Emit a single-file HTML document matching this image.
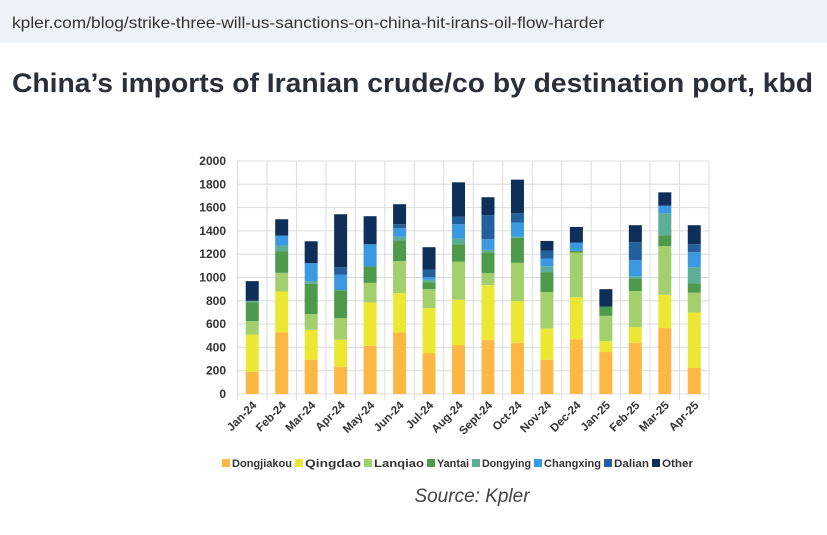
<!DOCTYPE html>
<html><head><meta charset="utf-8"><style>
html,body{margin:0;padding:0;background:#fff;}
svg{display:block;font-family:"Liberation Sans",sans-serif;}
</style></head><body>
<svg id="s" width="827" height="535" viewBox="0 0 827 535" xmlns="http://www.w3.org/2000/svg">
<rect x="0" y="0" width="827" height="43" fill="#edf1f8"/>
<text x="12" y="28" font-size="16" fill="#333" textLength="592" lengthAdjust="spacingAndGlyphs">kpler.com/blog/strike-three-will-us-sanctions-on-china-hit-irans-oil-flow-harder</text>
<text x="12" y="92" font-size="27" font-weight="bold" fill="#2a2f3a" textLength="801" lengthAdjust="spacingAndGlyphs">China’s imports of Iranian crude/co by destination port, kbd</text>
<text x="472" y="502" font-size="19" font-style="italic" fill="#444" text-anchor="middle">Source: Kpler</text>
<g id="g"></g>
</svg>
<script>
var g=document.getElementById('g');
var ns="http://www.w3.org/2000/svg";
function el(t,a,txt){var e=document.createElementNS(ns,t);for(var k in a)e.setAttribute(k,a[k]);if(txt)e.textContent=txt;g.appendChild(e);return e;}
var x0=237.5,x1=709,y0=394,y2000=161,n=16,w=(x1-x0)/n;
function Y(v){return y0-(y0-y2000)*v/2000;}
for(var i=0;i<=10;i++){var v=i*200;el('line',{x1:x0,x2:x1,y1:Y(v),y2:Y(v),stroke:'#dcdcdc','stroke-width':1});
el('text',{x:226,y:Y(v)+4,'font-size':12,'font-weight':'bold','text-anchor':'end',fill:'#333'},String(v));}
for(var i=0;i<=n;i++){var x=x0+i*w;el('line',{x1:x,x2:x,y1:y2000,y2:y0+6,stroke:'#dcdcdc','stroke-width':1});}
var cols=['#fdb743','#ece733','#a3d06d','#4d9a4b','#5cae96','#3b99e1','#22619d','#0e2f5a'];
var d=[[191,509,626,786,800,800,800,969],[529,880,1040,1226,1274,1360,1360,1500],[294,551,686,946,969,1123,1123,1311],[234,466,651,891,891,1023,1089,1543],[414,786,954,1094,1094,1286,1286,1526],[529,866,1140,1320,1349,1423,1457,1629],[351,737,900,960,980,1003,1069,1260],[420,809,1137,1286,1334,1457,1523,1817],[463,934,1037,1217,1237,1329,1534,1689],[440,797,1126,1340,1351,1471,1551,1840],[294,563,874,1046,1097,1163,1229,1314],[469,831,1214,1229,1229,1300,1300,1434],[360,454,671,749,749,749,749,900],[440,574,883,991,1011,1149,1303,1449],[566,851,1269,1360,1551,1617,1617,1731],[223,700,869,951,1089,1217,1286,1449]];
var lab=['Jan-24','Feb-24','Mar-24','Apr-24','May-24','Jun-24','Jul-24','Aug-24','Sept-24','Oct-24','Nov-24','Dec-24','Jan-25','Feb-25','Mar-25','Apr-25'];
var bw=13;
d.forEach(function(r,i){var cx=x0+(i+0.5)*w;var prev=0;
r.forEach(function(v,k){if(v>prev){el('rect',{x:cx-bw/2,y:Y(v),width:bw,height:Y(prev)-Y(v),fill:cols[k]});}prev=Math.max(prev,v);});
el('text',{x:cx+5,y:406,'font-size':11.5,'font-weight':'bold','text-anchor':'end',fill:'#333',transform:'rotate(-45 '+(cx+5)+' 406)'},lab[i]);});
var names=['Dongjiakou','Qingdao','Lanqiao','Yantai','Dongying','Changxing','Dalian','Other'];
var lx=[222,295,364,427,472,534,604,652,696];
names.forEach(function(nm,k){el('rect',{x:lx[k],y:459,width:8,height:8,fill:cols[k]});
el('text',{x:lx[k]+10,y:467,'font-size':11,'font-weight':'bold',fill:'#333',textLength:(lx[k+1]-lx[k]-13),lengthAdjust:'spacingAndGlyphs'},nm);});
</script>
</body></html>
